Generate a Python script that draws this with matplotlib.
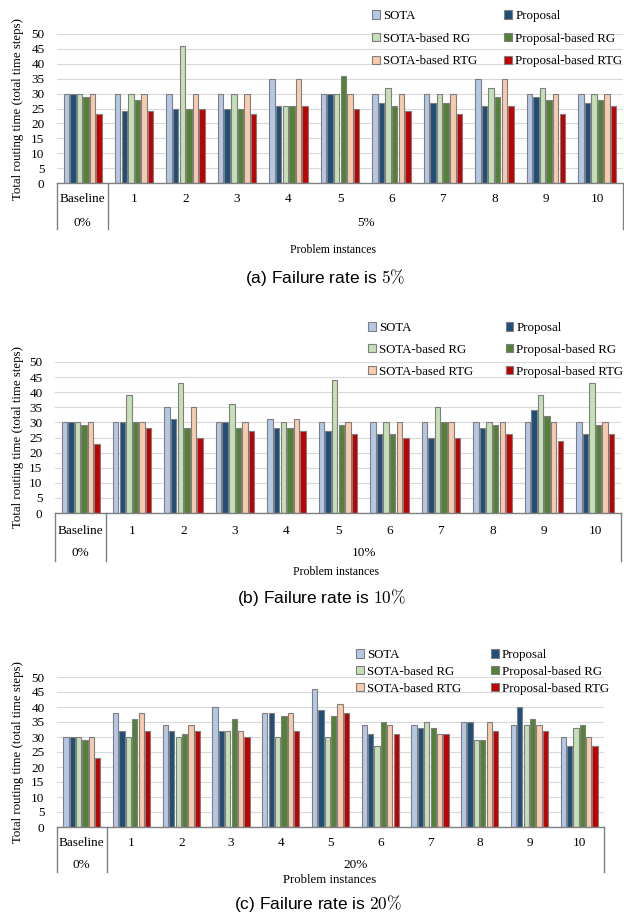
import matplotlib
matplotlib.use("Agg")
import matplotlib.pyplot as plt
from matplotlib.transforms import blended_transform_factory
from matplotlib.patches import Patch
from matplotlib.lines import Line2D
import numpy as np

plt.rcParams['mathtext.fontset'] = 'cm'

categories = ["Baseline", "1", "2", "3", "4", "5", "6", "7", "8", "9", "10"]
series_names = ["SOTA", "Proposal", "SOTA-based RG", "Proposal-based RG",
                "SOTA-based RTG", "Proposal-based RTG"]
colors = ["#b4c7e7", "#1f4e79", "#c5e0b4", "#548235", "#f8cbad", "#c00000"]
yticks = [0, 5, 10, 15, 20, 25, 30, 35, 40, 45, 50]

# Panel (a): failure rate 5%
a_sota      = [30, 30, 30, 30, 35, 30, 30, 30, 35, 30, 30]
a_proposal  = [30, 24, 25, 25, 26, 30, 27, 27, 26, 29, 27]
a_sota_rg   = [30, 30, 46, 30, 26, 30, 32, 30, 32, 32, 30]
a_prop_rg   = [29, 28, 25, 25, 26, 36, 26, 27, 29, 28, 28]
a_sota_rtg  = [30, 30, 30, 30, 35, 30, 30, 30, 35, 30, 30]
a_prop_rtg  = [23, 24, 25, 23, 26, 25, 24, 23, 26, 23, 26]

# Panel (b): failure rate 10%
b_sota      = [30, 30, 35, 30, 31, 30, 30, 30, 30, 30, 30]
b_proposal  = [30, 30, 31, 30, 28, 27, 26, 25, 28, 34, 26]
b_sota_rg   = [30, 39, 43, 36, 30, 44, 30, 35, 30, 39, 43]
b_prop_rg   = [29, 30, 28, 28, 28, 29, 26, 30, 29, 32, 29]
b_sota_rtg  = [30, 30, 35, 30, 31, 30, 30, 30, 30, 30, 30]
b_prop_rtg  = [23, 28, 25, 27, 27, 26, 25, 25, 26, 24, 26]

# Panel (c): failure rate 20%
c_sota      = [30, 38, 34, 40, 38, 46, 34, 34, 35, 34, 30]
c_proposal  = [30, 32, 32, 32, 38, 39, 31, 33, 35, 40, 27]
c_sota_rg   = [30, 30, 30, 32, 30, 30, 27, 35, 29, 34, 33]
c_prop_rg   = [29, 36, 31, 36, 37, 37, 35, 33, 29, 36, 34]
c_sota_rtg  = [30, 38, 34, 32, 38, 41, 34, 31, 35, 34, 30]
c_prop_rtg  = [23, 32, 32, 30, 32, 38, 31, 31, 32, 32, 27]

W, H = 624, 916
fig = plt.figure(figsize=(W / 100, H / 100), dpi=100)

serif = "Liberation Serif"
sans = "Liberation Sans"

def fx(px):
    return px / W

def fy(py):
    return 1 - py / H

panels = [
    dict(series=[a_sota, a_proposal, a_sota_rg, a_prop_rg, a_sota_rtg, a_prop_rtg],
         left=57, right=623, y0=183, y50=34, lab_y=199, pct_y=223, line_end=229,
         pi_y=250, cap_y=277, rate="5", cap="(a)", pi_x=333, cap_x=325, pi_fs=8.5,
         leg_x=372, leg_y=10, leg_ls=0.82, leg_cs=2.1),
    dict(series=[b_sota, b_proposal, b_sota_rg, b_prop_rg, b_sota_rtg, b_prop_rtg],
         left=55, right=621, y0=513, y50=362, lab_y=531, pct_y=553, line_end=561,
         pi_y=572, cap_y=598, rate="10", cap="(b)", pi_x=336, cap_x=322, pi_fs=8.5,
         leg_x=368, leg_y=322, leg_ls=0.76, leg_cs=2.5),
    dict(series=[c_sota, c_proposal, c_sota_rg, c_prop_rg, c_sota_rtg, c_prop_rtg],
         left=57, right=604, y0=827, y50=677, lab_y=843, pct_y=865, line_end=872,
         pi_y=880, cap_y=904, rate="20", cap="(c)", pi_x=330, cap_x=318, pi_fs=9.2,
         leg_x=356, leg_y=649, leg_ls=0.38, leg_cs=2.3),
]

n_ser = 6
slot = 0.128
bar_w = 0.106
x = np.arange(len(categories)) + 0.5

for p in panels:
    ax = fig.add_axes([fx(p["left"]), fy(p["y0"]),
                       (p["right"] - p["left"]) / W, (p["y0"] - p["y50"]) / H])
    for i, (vals, col) in enumerate(zip(p["series"], colors)):
        offs = (i - (n_ser - 1) / 2) * slot
        ax.bar(x + offs, vals, width=bar_w, color=col, edgecolor="#7f7f7f",
               linewidth=0.8, zorder=3)
    ax.set_xlim(0, len(categories))
    ax.set_ylim(0, 50)
    ax.set_yticks(yticks)
    ax.set_yticklabels([str(t) for t in yticks], fontfamily=serif, fontsize=9.5)
    ax.tick_params(axis="y", length=0, pad=9)
    ax.set_xticks([])
    ax.grid(axis="y", color="#d9d9d9", linewidth=0.8, zorder=0)
    for s in ["top", "right", "left"]:
        ax.spines[s].set_visible(False)
    ax.spines["bottom"].set_color("#808080")
    ax.spines["bottom"].set_linewidth(1.0)
    ax.spines["bottom"].set_zorder(4)

    tr = blended_transform_factory(ax.transData, fig.transFigure)
    for xv in [0, 1, len(categories)]:
        ln = Line2D([xv, xv], [fy(p["y0"]), fy(p["line_end"])], transform=tr,
                    color="#808080", linewidth=1.0)
        fig.add_artist(ln)
    for xi, lab in zip(x, categories):
        t = fig.text(0, fy(p["lab_y"]), lab, transform=tr, fontfamily=serif,
                     fontsize=9.5, ha="center", va="center")
        t.set_x(xi)
    t0 = fig.text(0.5, fy(p["pct_y"]), "0%", transform=tr, fontfamily=serif,
                  fontsize=9.5, ha="center", va="center")
    t0.set_x(0.5)
    t1 = fig.text(0, fy(p["pct_y"]), p["rate"] + "%", transform=tr,
                  fontfamily=serif, fontsize=9.5, ha="center", va="center")
    t1.set_x((1 + len(categories)) / 2)

    fig.text(fx(p["pi_x"]), fy(p["pi_y"]), "Problem instances", fontfamily=serif,
             fontsize=p["pi_fs"], ha="center", va="center")
    fig.text(fx(p["cap_x"]), fy(p["cap_y"]),
             p["cap"] + " Failure rate is $" + p["rate"] + r"\%$",
             fontfamily=sans, fontsize=12.5, ha="center", va="center")
    fig.text(fx(18), fy((p["y0"] + p["y50"]) / 2),
             "Total routing time (total time steps)", fontfamily=serif,
             fontsize=9.3, rotation=90, ha="center", va="center")

    handles = [Patch(facecolor=c, edgecolor="#7f7f7f", linewidth=0.8) for c in colors]
    order = [0, 2, 4, 1, 3, 5]
    fig.legend([handles[k] for k in order], [series_names[k] for k in order],
               ncol=2, loc="upper left",
               bbox_to_anchor=(fx(p["leg_x"]), fy(p["leg_y"])),
               frameon=False, borderpad=0, borderaxespad=0,
               handlelength=0.6, handleheight=0.6, handletextpad=0.25,
               labelspacing=p["leg_ls"], columnspacing=p["leg_cs"],
               prop={"family": serif, "size": 9.3})

fig.savefig("out.png", dpi=100)
